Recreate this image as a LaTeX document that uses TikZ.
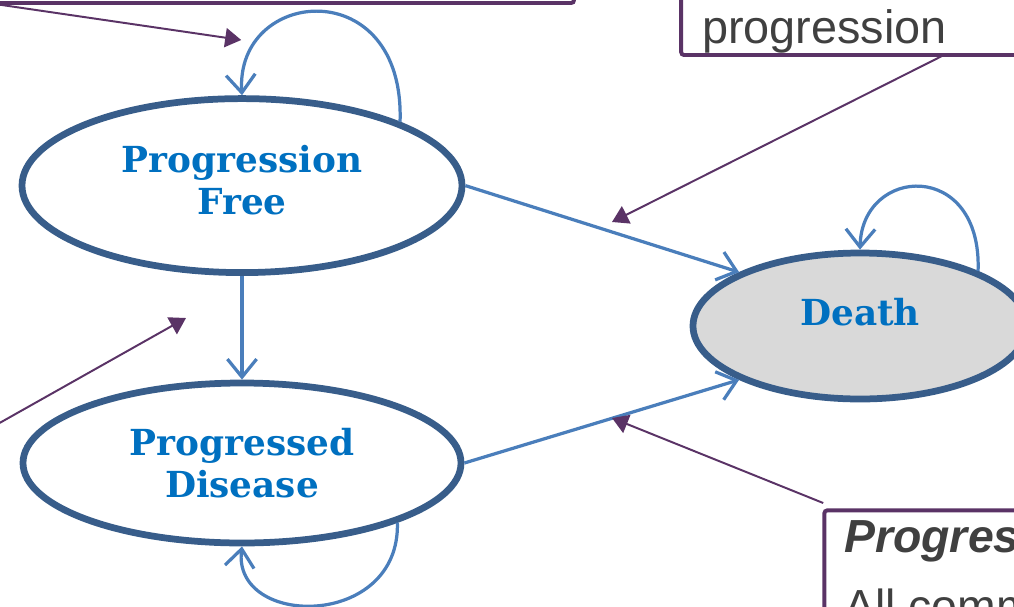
\documentclass[tikz,border=0pt]{standalone}
\usepackage{fontspec}
\setmainfont{Liberation Sans}
\newfontfamily\statefont{DejaVu Serif}
\usetikzlibrary{arrows.meta,shapes.geometric}
\definecolor{StateBlue}{HTML}{0070C0}
\definecolor{StateEdge}{HTML}{385D8A}
\definecolor{FlowBlue}{HTML}{4A7EBB}
\definecolor{NotePurple}{HTML}{5A3366}
\definecolor{NoteGray}{HTML}{404040}
\definecolor{DeathGray}{HTML}{D9D9D9}

\begin{document}
\begin{tikzpicture}[
  state/.style={ellipse,draw=StateEdge,line width=4.8pt,fill=white,inner sep=0pt,
    text=StateBlue,align=center,font=\statefont\bfseries\fontsize{25.5}{29.8}\selectfont},
  flow/.style={-{Straight Barb[length=4.5mm,width=7.3mm]},FlowBlue,line width=2.3pt},
  pointer/.style={-{Triangle[length=4mm,width=4.8mm]},NotePurple,line width=1.4pt},
  notebox/.style={NotePurple,line width=2.8pt,rounded corners=2pt},
  notetext/.style={anchor=base west,inner sep=0pt,text=NoteGray}]
  \clip (0,0) rectangle (25.35,-15.15);
  % note boxes, cut by the page edge
  \draw[notebox] (-0.5,0.5) rectangle (14.35,-0.075);
  \draw[notebox] (17.03,-1.375) rectangle (26,0.5);
  \draw[notebox] (20.61,-12.76) rectangle (26,-16);
  \node[notetext,font=\fontsize{33.3}{40}\selectfont] (progtext) at (17.55,-1.075) {progression};
  \node[notetext,font=\bfseries\itshape\fontsize{33}{40}\selectfont] (pdtitle) at (21.1,-13.8) {Progres};
  \node[notetext,font=\fontsize{33}{40}\selectfont] (pdbody) at (21.1,-15.55) {All comm};
  % states
  \node[state,minimum width=11cm,minimum height=4.35cm,text depth=0.3cm] (pf) at (6.05,-4.64) {Progression\\Free};
  \node[state,minimum width=10.95cm,minimum height=4cm] (pd) at (6.05,-11.575) {Progressed\\Disease};
  \node[state,fill=DeathGray,minimum width=8.35cm,minimum height=3.65cm,text depth=0.7cm] (death) at (21.5,-8.15) {Death};
  % transitions
  \draw[flow] (pf.22) .. controls +(0.125,3.75) and +(-0.175,2.7) .. (pf.north);
  \draw[flow] (pf.south) -- (pd.north);
  \draw[flow] (pf.east) -- (death.156);
  \draw[flow] (pd.east) -- (death.204);
  \draw[flow] (pd.-21) .. controls +(0.075,-2.675) and +(-0.25,-2.05) .. (pd.south);
  \draw[flow] (death.25) .. controls +(0.1,2.8) and +(0.05,2.1) .. (death.north);
  % pointers from the notes
  \coordinate (tlfoot) at (-0.4,-0.06);
  \coordinate (tlhead) at (6.03,-1.0);
  \coordinate (trfoot) at (23.55,-1.4);
  \coordinate (trhead) at (15.3,-5.55);
  \coordinate (lfoot) at (-0.5,-10.85);
  \coordinate (lhead) at (4.65,-7.95);
  \coordinate (brfoot) at (20.58,-12.575);
  \coordinate (brhead) at (15.3,-10.45);
  \draw[pointer] (tlfoot) -- (tlhead);
  \draw[pointer] (trfoot) -- (trhead);
  \draw[pointer] (lfoot) -- (lhead);
  \draw[pointer] (brfoot) -- (brhead);
\end{tikzpicture}
\end{document}
